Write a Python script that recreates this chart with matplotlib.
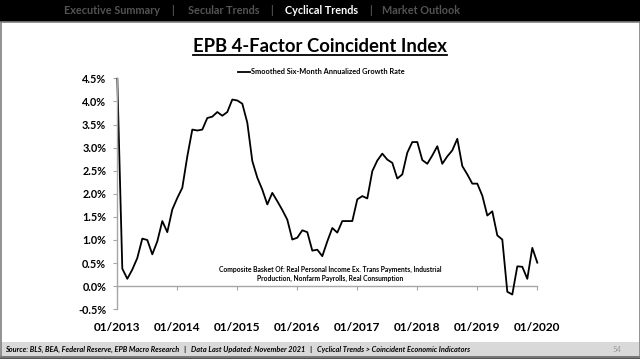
import matplotlib
matplotlib.use("Agg")
import matplotlib.pyplot as plt
from matplotlib.patches import Rectangle
from matplotlib.lines import Line2D

# ---- data ----
growth_pct = [4.49, 0.38, 0.16, 0.36, 0.61, 1.03, 1.00, 0.69, 0.97, 1.41, 1.17, 1.66,
              1.91, 2.13, 2.81, 3.39, 3.37, 3.39, 3.64, 3.67, 3.77, 3.69, 3.77, 4.04,
              4.02, 3.95, 3.54, 2.71, 2.35, 2.09, 1.77, 2.02, 1.84, 1.65, 1.44, 1.01,
              1.05, 1.21, 1.17, 0.77, 0.79, 0.65, 0.97, 1.26, 1.16, 1.41, 1.41, 1.41,
              1.88, 1.95, 1.90, 2.49, 2.72, 2.87, 2.74, 2.67, 2.33, 2.42, 2.89, 3.12,
              3.12, 2.73, 2.65, 2.83, 3.03, 2.65, 2.81, 2.94, 3.19, 2.60, 2.42, 2.22,
              2.22, 1.96, 1.53, 1.62, 1.10, 1.01, -0.12, -0.18, 0.43, 0.42, 0.16, 0.83,
              0.51]
months = list(range(len(growth_pct)))
xtick_pos = [0, 12, 24, 36, 48, 60, 72, 84]
xtick_labels = ["01/2013", "01/2014", "01/2015", "01/2016", "01/2017", "01/2018", "01/2019", "01/2020"]
yticks = [-0.5, 0.0, 0.5, 1.0, 1.5, 2.0, 2.5, 3.0, 3.5, 4.0, 4.5]
ytick_labels = ["-0.5%", "0.0%", "0.5%", "1.0%", "1.5%", "2.0%", "2.5%", "3.0%", "3.5%", "4.0%", "4.5%"]
series_name = "Smoothed Six-Month Annualized Growth Rate"
title = "EPB 4-Factor Coincident Index"
note = ("Composite Basket Of: Real Personal Income Ex. Trans Payments, Industrial\n"
        "Production, Nonfarm Payrolls, Real Consumption")
nav_items = ["Executive Summary", "|", "Secular Trends", "|", "Cyclical Trends", "|", "Market Outlook"]
footer = ("Source: BLS, BEA, Federal Reserve, EPB Macro Research   |   Data Last Updated: November 2021"
          "   |   Cyclical Trends > Coincident Economic Indicators")
page_no = "54"

plt.rcParams['font.family'] = ['Lato', 'DejaVu Sans']

W, H = 640, 359
fig = plt.figure(figsize=(W / 100, H / 100), dpi=100)
fig.patch.set_facecolor("white")

def fx(px):
    return px / W

def fy(py):
    return 1 - py / H

# top nav bar
fig.patches.append(Rectangle((0, fy(22)), 1, 22 / H, transform=fig.transFigure,
                             facecolor="black", edgecolor="none", zorder=0))
nav_x = [112, 173, 223.8, 271.7, 321.3, 370, 421.3]
for txt, x in zip(nav_items, nav_x):
    active = txt == "Cyclical Trends"
    fig.text(fx(x), fy(11), txt, ha="center", va="center", fontsize=7.8,
             fontweight="bold", color="white" if active else "#545454")

# slide border
fig.patches.append(Rectangle((fx(0.5), fy(357)), fx(639), (357 - 22) / H, transform=fig.transFigure,
                             facecolor="none", edgecolor="#7f7f7f", linewidth=1.2, zorder=1))
# footer band
fig.patches.append(Rectangle((fx(1), fy(356)), fx(638), 14 / H, transform=fig.transFigure,
                             facecolor="#d9d9d9", edgecolor="none", zorder=0))
fig.patches.append(Rectangle((0, 0), 1, 3 / H, transform=fig.transFigure,
                             facecolor="#555555", edgecolor="none", zorder=0))
fig.text(fx(5), fy(349), footer, ha="left", va="center", fontsize=5.3,
         fontweight="bold", fontstyle="italic", color="black")
fig.text(fx(617), fy(349), page_no, ha="center", va="center", fontsize=5.5, color="#9a9a9a")

# title
t = fig.text(fx(320), fy(52.5), title, ha="center", va="baseline", fontsize=13.3,
             fontweight="bold", color="black")
fig.canvas.draw()
bb = t.get_window_extent()
fig.add_artist(Line2D([bb.x0 / W, bb.x1 / W], [fy(54.5), fy(54.5)], transform=fig.transFigure,
                      color="black", linewidth=1.3))

# axes
ax = fig.add_axes([fx(117.3), fy(309.3), fx(537.3 - 117.3), (309.3 - 78.3) / H])
ax.plot(months, growth_pct, color="black", linewidth=1.3, label=series_name, clip_on=False)
ax.set_xlim(0, 84)
ax.set_ylim(-0.5, 4.5)
ax.set_yticks(yticks)
ax.set_yticklabels(ytick_labels)
ax.set_xticks(xtick_pos)
ax.set_xticklabels(xtick_labels)
for s in ["top", "right", "bottom"]:
    ax.spines[s].set_visible(False)
ax.spines["left"].set_color("#a6a6a6")
ax.spines["left"].set_linewidth(1.0)
ax.tick_params(axis="y", direction="out", length=3, width=0.8, color="#a6a6a6",
               pad=5, labelsize=7.8)
ax.tick_params(axis="x", length=0, pad=9, labelsize=8.6)
for lab in ax.get_xticklabels() + ax.get_yticklabels():
    lab.set_fontweight("bold")

sec = ax.secondary_xaxis(0.1)
sec.set_xticks(xtick_pos)
sec.set_xticklabels([])
sec.spines["bottom"].set_color("#a6a6a6")
sec.spines["bottom"].set_linewidth(1.0)
sec.tick_params(axis="x", direction="out", length=3, width=0.8, color="#a6a6a6")

leg = ax.legend(loc="center", bbox_to_anchor=(fx(321.5), fy(71.7)), bbox_transform=fig.transFigure,
                frameon=False, fontsize=5.3, handlelength=1.6, handletextpad=0.1,
                borderpad=0, borderaxespad=0)
for txt in leg.get_texts():
    txt.set_fontweight("bold")

fig.text(fx(330), fy(274.3), note, ha="center", va="center", fontsize=4.85,
         fontweight="bold", color="black", linespacing=1.3)

fig.savefig("out.png", dpi=100)
